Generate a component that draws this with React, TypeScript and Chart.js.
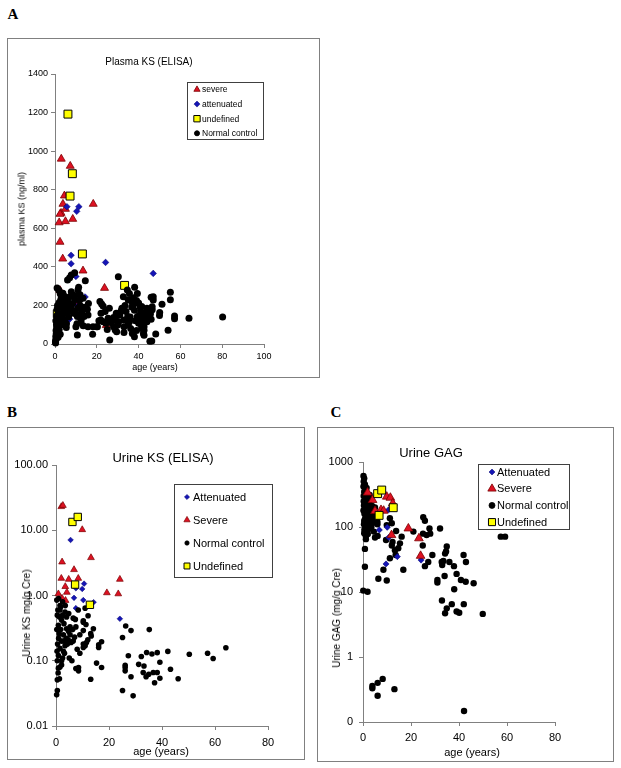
import React, { useEffect, useRef } from "react";
import { Chart, registerables } from "chart.js";
Chart.register(...registerables);

type Pt = [number, number];

// ---------- Panel A: Plasma KS (ELISA) ----------
const plasmaSevere: Pt[] = [
  [3, 960], [7.3, 923], [4.5, 769], [18.3, 726], [3.8, 726], [2.9, 679], [2.4, 674], [5, 700],
  [2, 630], [5, 636], [8.5, 648], [2.4, 529], [3.7, 442], [13.4, 380], [23.7, 290], [2.4, 278],
  [10.2, 216], [24.5, 97],
];
const plasmaAttenuated: Pt[] = [
  [5.7, 712], [11.4, 712], [10.4, 688], [7.7, 460], [7.7, 416], [24.2, 423], [47, 366], [10, 350],
  [14.4, 244], [10.7, 196], [7, 129],
];
const plasmaUndefined: Pt[] = [
  [6.2, 1192], [8.3, 883], [7.2, 767], [13.1, 467], [33.3, 304], [1.1, 157],
];
const plasmaNormal: Pt[] = [
  [0.3, 5], [0.3, 15], [0.5, 25], [0.4, 40], [0.6, 55], [0.5, 70], [0.8, 85], [0.7, 100], [1, 110],
  [0.4, 120], [1.2, 130], [0.8, 145], [1.5, 160], [1, 180], [1.8, 195], [0.6, 30], [1.3, 60], [2, 75],
  [1.6, 95], [2.2, 115], [2.5, 140], [1.2, 200], [2, 215], [2.8, 230], [1, 290], [1.8, 280], [3, 240],
  [2.5, 260], [0.2, 10], [0.9, 45], [1.5, 35],
  [3.8, 263], [4.2, 250], [3.5, 200], [4, 180], [4.5, 160], [3.5, 140], [4, 120], [5, 228], [5.4, 211],
  [6.2, 194], [7, 245], [7.8, 271], [8.6, 254], [6, 332], [7, 344], [7.8, 358], [9.4, 370], [3.8, 159],
  [4.6, 124], [5.4, 86], [6, 225], [6.5, 170], [7.5, 200], [5.5, 105], [6.5, 140], [8, 180], [8.5, 210],
  [9, 160], [9.5, 230], [4.8, 240], [3, 100], [2.5, 50],
  [9.7, 159], [10.7, 142], [11, 185], [10.7, 47], [11.3, 294], [11, 280], [11.8, 228], [13.4, 237],
  [15.5, 180], [12.6, 176], [11.8, 150], [13.9, 142], [15.8, 150], [12, 200], [13, 160], [14.5, 328],
  [10.5, 105], [12.5, 120], [14, 190], [16, 210], [9.5, 250], [10, 90], [13.5, 95], [12, 255],
  [15.8, 90], [18.2, 90], [20.3, 90], [21.9, 124], [23, 116], [25.4, 133], [26.2, 21], [28.5, 133],
  [29.3, 159], [21.5, 220], [22.3, 207], [23, 197], [24, 168], [26, 185], [19.9, 90], [21, 120],
  [24.4, 107], [28, 90], [28.8, 72], [29.5, 64], [30, 98], [30.5, 116], [30.3, 349], [27, 110],
  [22, 160], [25, 75], [18, 50],
  [31, 150], [32, 185], [32.7, 176], [33, 124], [33, 90], [34, 168], [34.8, 142], [35.6, 116],
  [36.2, 81], [37, 55], [38, 38], [39.4, 142], [40, 107], [40.5, 124], [42, 102], [42.6, 90],
  [41.5, 81], [42.3, 55], [29.5, 152], [31, 162], [31.7, 173], [28, 138], [29, 124], [36.7, 219],
  [37.8, 207], [35.6, 262], [34.6, 280], [32.7, 245], [38.1, 294], [39.4, 262], [37.5, 240], [39, 226],
  [40, 212], [44, 185], [44.5, 168], [42.3, 159], [43.2, 150], [44, 115], [43, 128], [42, 115],
  [41.5, 92], [42.6, 71], [42.6, 46], [45.6, 153], [44.6, 150], [45.6, 162], [40.8, 190], [41.5, 195],
  [36.7, 192], [35, 230], [33.5, 200], [38, 175], [36, 140], [35, 100], [33, 60], [39, 70],
  [40.5, 150], [41, 170], [38.5, 120],
  [46, 242], [46.5, 193], [46.5, 177], [46, 128], [47, 245], [47, 228], [48.2, 52], [46.3, 16],
  [50.1, 163], [50, 148], [51.2, 206], [54.1, 71], [55.2, 268], [55.2, 230], [57.2, 145], [57.2, 131],
  [64.1, 133], [80.2, 140], [45.4, 14],
];
const plasmaXTicks = [0, 20, 40, 60, 80, 100];
const plasmaYTicks = [0, 200, 400, 600, 800, 1000, 1200, 1400];

// ---------- Panel B: Urine KS (ELISA) ----------
const urineKsAttenuated: Pt[] = [
  [5.5, 7.1], [10.6, 1.52], [7.5, 1.29], [9.9, 1.26], [6.8, 0.92], [10.3, 0.85], [14.2, 0.79],
  [7.5, 0.64], [24.1, 0.44],
];
const urineKsSevere: Pt[] = [
  [2, 23], [2.6, 24], [9.9, 10.2], [13.2, 3.8], [2.3, 3.26], [6.8, 2.49], [2, 1.83], [4.8, 1.77],
  [8.4, 1.83], [24.1, 1.77], [3.5, 1.37], [4.1, 1.12], [19.2, 1.1], [23.5, 1.06], [0.9, 1.06],
  [2.3, 0.906], [3.6, 0.84],
];
const urineKsUndefined: Pt[] = [
  [6.2, 13.4], [8.2, 16], [7.2, 1.47], [12.8, 0.72],
];
const urineKsNormal: Pt[] = [
  [0.3, 0.85], [1, 0.9], [1.8, 0.67], [1.5, 0.6], [1.3, 0.47], [2.1, 0.42], [0.9, 0.35], [1.8, 0.3],
  [2.8, 0.25], [1, 0.22], [2.1, 0.2], [3.4, 0.17], [1.5, 0.155], [2.8, 0.14], [0.9, 0.12], [2.1, 0.1],
  [1.5, 0.08], [0.9, 0.077], [3, 0.37], [4, 0.31], [3.8, 0.22], [4.6, 0.21], [4, 0.47], [4.8, 0.53],
  [3.4, 0.56], [0.5, 0.1], [2.1, 0.086], [0.5, 0.5], [0.3, 0.3], [0.6, 0.18], [0.4, 0.14], [1.2, 0.26],
  [2.5, 0.5], [3.2, 0.13], [2.5, 0.11], [0.8, 0.065], [0.5, 0.051], [1.3, 0.053], [0.5, 0.035],
  [0.25, 0.03], [1.5, 0.7], [2.5, 0.8], [3.5, 0.7], [0.7, 0.6], [4.3, 0.18], [3, 0.2], [4.8, 0.28],
  [5.3, 0.33], [6.3, 0.3], [5.3, 0.25], [5.7, 0.19], [5, 0.11], [6, 0.1], [7.5, 0.076], [8.5, 0.079],
  [8.5, 0.07], [8.4, 0.6], [7.3, 0.43], [10.3, 0.41], [10.3, 0.39], [10.3, 0.29], [10.3, 0.18],
  [10.3, 0.16], [12, 0.21], [11.5, 0.19], [11, 0.17], [11.3, 0.36], [12.1, 0.49], [11, 0.64],
  [14.1, 0.31], [13.1, 0.26], [13.3, 0.24], [16.1, 0.175], [16.1, 0.16], [17.2, 0.196], [15.3, 0.092],
  [17.2, 0.079], [13.1, 0.052], [6.5, 0.2], [7, 0.23], [8, 0.15], [9, 0.13], [7.5, 0.33], [6.5, 0.45],
  [9, 0.25],
  [25.1, 0.227], [26.3, 0.34], [28.3, 0.29], [27.3, 0.119], [26.1, 0.085], [26.1, 0.079], [26.1, 0.07],
  [28.3, 0.057], [25.1, 0.035], [29.1, 0.029], [31.2, 0.088], [32.2, 0.116], [33.2, 0.083],
  [32.9, 0.066], [34, 0.057], [35, 0.062], [36.7, 0.066], [38.2, 0.066], [39.2, 0.054], [37.2, 0.046],
  [34.2, 0.134], [35.2, 0.3], [36.2, 0.127], [38.2, 0.133], [39.2, 0.095], [42.2, 0.139], [43.2, 0.074],
  [46.1, 0.053], [50.3, 0.126], [57.2, 0.13], [59.3, 0.108], [64.1, 0.158],
];
const urineKsXTicks = [0, 20, 40, 60, 80];
const urineKsYTicks = [0.01, 0.1, 1, 10, 100];

// ---------- Panel C: Urine GAG ----------
const gagAttenuated: Pt[] = [
  [10.6, 183], [6.8, 90], [10.1, 99], [10.7, 69], [14.3, 35], [9.6, 27], [24.2, 31],
];
const gagSevere: Pt[] = [
  [1.9, 338], [4, 260], [9.9, 293], [11.4, 282], [12.4, 231], [7.5, 183], [8.6, 178], [5, 176],
  [18.9, 95], [23.3, 67], [24, 36], [11.9, 75],
];
const gagUndefined: Pt[] = [
  [6.1, 326], [7.8, 370], [12.6, 198], [6.7, 151],
];
const gagNormal: Pt[] = [
  [0.2, 610], [0.5, 560], [0.3, 500], [0.8, 450], [0.2, 420], [1, 380], [0.5, 350], [1.5, 330],
  [0.3, 300], [1.2, 280], [2, 260], [0.7, 240], [1.8, 230], [0.4, 215], [2.5, 200], [1, 190],
  [1.5, 175], [3, 165], [0.6, 160], [2.2, 150], [3.5, 140], [0.9, 135], [1.8, 128], [2.8, 120],
  [4, 115], [0.4, 110], [1.3, 105], [2.4, 100], [3.2, 95], [0.8, 92], [1.8, 88], [4.5, 85], [0.5, 80],
  [2, 78], [1.2, 72], [3, 130], [4, 180], [5, 150], [3.8, 210], [2.8, 310], [1.5, 400], [0.2, 180],
  [0.5, 125], [4.5, 125], [5.5, 130], [6, 110], [3.5, 100], [1.2, 65], [0.8, 46], [0.8, 24.5],
  [0.1, 10.5], [1.9, 10.1], [2.5, 240], [3.3, 270], [5, 200], [0.3, 250], [0.6, 90], [2, 140],
  [4.2, 160], [6, 120],
  [11.2, 136], [9.9, 107], [12, 114], [13.8, 87], [5, 69], [6.1, 73], [9.6, 63], [12.3, 59], [12, 52],
  [13.3, 44], [16.1, 71], [13.6, 37], [11.2, 33], [8.5, 22], [6.4, 16], [9.9, 15], [16.8, 22],
  [15.4, 56], [14.7, 47], [21, 85], [25.1, 141], [25.8, 125], [25, 79], [26.5, 75], [28, 79],
  [27.7, 95], [24.9, 52], [25.8, 25], [27.2, 29], [28.9, 37], [32.1, 95], [34.9, 50], [34.6, 42],
  [34.2, 39], [33.5, 30], [36, 29], [32.8, 29], [33, 26], [31, 15.3], [31, 14], [34, 17.6], [37.9, 25],
  [39, 19], [38, 11], [40.8, 15.3], [42.8, 14.4], [41.9, 37], [42.9, 29], [46.1, 13.6], [57.4, 71],
  [59.2, 71], [32.9, 7.4], [37, 6.5], [42, 6.5], [34.9, 5.6], [34.2, 4.7], [39, 5], [40.1, 4.8],
  [49.9, 4.6], [3.9, 0.358], [3.9, 0.33], [6.1, 0.4], [8.2, 0.46], [6.1, 0.254], [13.1, 0.32],
  [42.1, 0.148],
];
const gagXTicks = [0, 20, 40, 60, 80];
const gagYTicks = [0.1, 1, 10, 100, 1000];

// ---------- styles ----------
const SANS = '"Liberation Sans", Arial, Helvetica, sans-serif';
const SERIF = '"Liberation Serif", "Times New Roman", serif';
const AXIS = "#808080";
const RED = "#dd1122", RED_B = "#7a0000";
const BLUE = "#1515b5", BLUE_B = "#000070";
const YEL = "#ffff00";

type Series = {
  label: string; data: Pt[]; style: string; r: number; bg: string; border: string; bw: number; order: number;
  legendR: number;
};
type LegendSpec = {
  x: number; y: number; w: number; h: number; markerX: number; textX: number;
  firstRow: number; rowGap: number; fontSize: number; order: string[];
};
type PanelProps = {
  box: { x: number; y: number; w: number; h: number };
  plot: { left: number; top: number; right: number; bottom: number };
  series: Series[];
  xMax: number; xTicks: number[];
  yLog: boolean; yMin: number; yMax: number; yTicks: number[]; yFmt: (v: number) => string;
  fontSize: number; xPad: number; yPad: number;
  legend: LegendSpec;
};

function drawMarker(ctx: CanvasRenderingContext2D, style: string, x: number, y: number, r: number) {
  ctx.beginPath();
  if (style === "circle") {
    ctx.arc(x, y, r, 0, Math.PI * 2);
  } else if (style === "triangle") {
    ctx.moveTo(x, y - r);
    ctx.lineTo(x + 0.866 * r, y + 0.5 * r);
    ctx.lineTo(x - 0.866 * r, y + 0.5 * r);
  } else if (style === "rectRot") {
    ctx.moveTo(x - r, y); ctx.lineTo(x, y - r); ctx.lineTo(x + r, y); ctx.lineTo(x, y + r);
  } else {
    const s = Math.SQRT1_2 * r;
    ctx.rect(x - s, y - s, 2 * s, 2 * s);
  }
  ctx.closePath();
  ctx.fill();
  if (ctx.lineWidth > 0) ctx.stroke();
}

function makeLegendPlugin(spec: LegendSpec, series: Series[], ox: number, oy: number) {
  return {
    id: "boxLegend",
    afterDatasetsDraw(chart: any) {
      const ctx: CanvasRenderingContext2D = chart.ctx;
      const x = spec.x - ox, y = spec.y - oy;
      ctx.save();
      ctx.fillStyle = "#fff";
      ctx.fillRect(x, y, spec.w, spec.h);
      ctx.strokeStyle = "#404040";
      ctx.lineWidth = 1;
      ctx.strokeRect(x + 0.5, y + 0.5, spec.w - 1, spec.h - 1);
      ctx.font = `${spec.fontSize}px ${SANS}`;
      ctx.textBaseline = "middle";
      ctx.textAlign = "left";
      spec.order.forEach((lab, i) => {
        const s = series.find((q) => q.label === lab)!;
        const cy = spec.firstRow - oy + i * spec.rowGap;
        ctx.fillStyle = s.bg;
        ctx.strokeStyle = s.border;
        ctx.lineWidth = s.bw;
        drawMarker(ctx, s.style, spec.markerX - ox, cy, s.legendR);
        ctx.fillStyle = "#000";
        ctx.fillText(lab, spec.textX - ox, cy + 0.5);
      });
      ctx.restore();
    },
  };
}

function ScatterPanel(p: PanelProps) {
  const ref = useRef<HTMLCanvasElement>(null);
  useEffect(() => {
    const { box, plot } = p;
    const padTop = plot.top - box.y;
    const padRight = box.x + box.w - plot.right;
    const yW = plot.left - box.x;
    const xH = box.y + box.h - plot.bottom;
    const tickFont = { family: SANS, size: p.fontSize };
    const chart = new Chart(ref.current!, {
      type: "scatter",
      data: {
        datasets: p.series.map((s) => ({
          label: s.label,
          data: s.data.map(([x, y]) => ({ x, y })),
          pointStyle: s.style as any,
          pointRadius: s.r,
          pointHoverRadius: s.r,
          backgroundColor: s.bg,
          borderColor: s.border,
          borderWidth: s.bw,
          order: s.order,
          clip: false as any,
          showLine: false,
        })),
      },
      options: {
        animation: false,
        responsive: false,
        maintainAspectRatio: false,
        events: [],
        layout: { padding: { top: padTop, right: padRight, left: 0, bottom: 0 }, autoPadding: false } as any,
        plugins: { legend: { display: false }, tooltip: { enabled: false }, title: { display: false } },
        scales: {
          x: {
            type: "linear",
            min: 0,
            max: p.xMax,
            afterBuildTicks: (s: any) => { s.ticks = p.xTicks.map((v) => ({ value: v })); },
            afterFit: (s: any) => { s.height = xH; },
            ticks: { font: tickFont, color: "#000", padding: p.xPad, maxRotation: 0, autoSkip: false, callback: (v: any) => String(v) },
            grid: { drawOnChartArea: false, drawTicks: true, tickLength: 4, color: AXIS },
            border: { display: true, color: AXIS },
          },
          y: {
            type: p.yLog ? "logarithmic" : "linear",
            min: p.yMin,
            max: p.yMax,
            afterBuildTicks: (s: any) => { s.ticks = p.yTicks.map((v) => ({ value: v })); },
            afterFit: (s: any) => { s.width = yW; },
            ticks: { font: tickFont, color: "#000", padding: p.yPad, autoSkip: false, callback: (v: any) => p.yFmt(Number(v)) },
            grid: { drawOnChartArea: false, drawTicks: true, tickLength: 4, color: AXIS },
            border: { display: true, color: AXIS },
          },
        } as any,
      },
      plugins: [makeLegendPlugin(p.legend, p.series, box.x, box.y)],
    });
    return () => chart.destroy();
  }, []);
  const { box } = p;
  return (
    <>
      <div style={{ position: "absolute", left: box.x, top: box.y, width: box.w, height: box.h, border: `1px solid ${AXIS}`, boxSizing: "border-box" }} />
      <canvas
        ref={ref}
        width={box.w}
        height={box.h}
        style={{ position: "absolute", left: box.x, top: box.y, width: box.w, height: box.h }}
      />
    </>
  );
}

function Txt(props: { x: number; y: number; size: number; text: string; rotate?: boolean; bold?: boolean; serif?: boolean }) {
  return (
    <div
      style={{
        position: "absolute",
        left: props.x,
        top: props.y,
        transform: `translate(-50%, -50%)${props.rotate ? " rotate(-90deg)" : ""}`,
        fontFamily: props.serif ? SERIF : SANS,
        fontSize: props.size,
        fontWeight: props.bold ? "bold" : "normal",
        whiteSpace: "nowrap",
        lineHeight: 1,
        color: "#000",
      }}
    >
      {props.text}
    </div>
  );
}

const seriesA: Series[] = [
  { label: "severe", data: plasmaSevere, style: "triangle", r: 4.6, bg: RED, border: RED_B, bw: 0.8, order: 4, legendR: 3.6 },
  { label: "attenuated", data: plasmaAttenuated, style: "rectRot", r: 3.3, bg: BLUE, border: BLUE_B, bw: 0.5, order: 3, legendR: 3 },
  { label: "undefined", data: plasmaUndefined, style: "rect", r: 5.6, bg: YEL, border: "#000", bw: 1, order: 2, legendR: 4.5 },
  { label: "Normal control", data: plasmaNormal, style: "circle", r: 3.5, bg: "#000", border: "#000", bw: 0, order: 1, legendR: 2.5 },
];
const seriesB: Series[] = [
  { label: "Attenuated", data: urineKsAttenuated, style: "rectRot", r: 2.8, bg: BLUE, border: BLUE_B, bw: 0.5, order: 4, legendR: 2.6 },
  { label: "Severe", data: urineKsSevere, style: "triangle", r: 3.9, bg: RED, border: RED_B, bw: 0.7, order: 3, legendR: 3.6 },
  { label: "Normal control", data: urineKsNormal, style: "circle", r: 2.8, bg: "#000", border: "#000", bw: 0, order: 2, legendR: 2.2 },
  { label: "Undefined", data: urineKsUndefined, style: "rect", r: 5.2, bg: YEL, border: "#000", bw: 1, order: 1, legendR: 4.2 },
];
const seriesC: Series[] = [
  { label: "Attenuated", data: gagAttenuated, style: "rectRot", r: 3.1, bg: BLUE, border: BLUE_B, bw: 0.5, order: 3, legendR: 3 },
  { label: "Severe", data: gagSevere, style: "triangle", r: 5, bg: RED, border: RED_B, bw: 0.8, order: 2, legendR: 4.8 },
  { label: "Normal control", data: gagNormal, style: "circle", r: 3.2, bg: "#000", border: "#000", bw: 0, order: 4, legendR: 3 },
  { label: "Undefined", data: gagUndefined, style: "rect", r: 5.6, bg: YEL, border: "#000", bw: 1, order: 1, legendR: 5 },
];

export default function App() {
  return (
    <div style={{ position: "absolute", left: 0, top: 0, width: 621, height: 768, background: "#fff" }}>
      <Txt x={13} y={14} size={15} text="A" bold serif />
      <Txt x={12} y={412} size={15} text="B" bold serif />
      <Txt x={336} y={412} size={15} text="C" bold serif />

      <ScatterPanel
        box={{ x: 7, y: 38, w: 313, h: 340 }}
        plot={{ left: 55, top: 74, right: 264, bottom: 344 }}
        series={seriesA}
        xMax={100}
        xTicks={plasmaXTicks}
        yLog={false}
        yMin={0}
        yMax={1400}
        yTicks={plasmaYTicks}
        yFmt={(v) => String(v)}
        fontSize={9}
        xPad={3}
        yPad={3}
        legend={{ x: 187, y: 82, w: 77, h: 58, markerX: 197, textX: 202, firstRow: 89.5, rowGap: 14.6, fontSize: 8.5, order: ["severe", "attenuated", "undefined", "Normal control"] }}
      />
      <Txt x={149} y={62} size={10} text="Plasma KS (ELISA)" />
      <Txt x={155} y={367} size={9} text="age (years)" />
      <Txt x={22} y={209} size={9} text="plasma KS (ng/ml)" rotate />

      <ScatterPanel
        box={{ x: 7, y: 427, w: 298, h: 333 }}
        plot={{ left: 56, top: 465, right: 268, bottom: 726 }}
        series={seriesB}
        xMax={80}
        xTicks={urineKsXTicks}
        yLog={true}
        yMin={0.01}
        yMax={100}
        yTicks={urineKsYTicks}
        yFmt={(v) => v.toFixed(2)}
        fontSize={11}
        xPad={6}
        yPad={4}
        legend={{ x: 174, y: 484, w: 99, h: 94, markerX: 187, textX: 193, firstRow: 497, rowGap: 23, fontSize: 11, order: ["Attenuated", "Severe", "Normal control", "Undefined"] }}
      />
      <Txt x={163} y={457} size={13} text="Urine KS (ELISA)" />
      <Txt x={161} y={751} size={11} text="age (years)" />
      <Txt x={27} y={613} size={10} text="Urine KS mg/g Cre)" rotate />

      <ScatterPanel
        box={{ x: 317, y: 427, w: 297, h: 335 }}
        plot={{ left: 363, top: 462, right: 555, bottom: 722 }}
        series={seriesC}
        xMax={80}
        xTicks={gagXTicks}
        yLog={true}
        yMin={0.1}
        yMax={1000}
        yTicks={gagYTicks}
        yFmt={(v) => v.toFixed(0)}
        fontSize={11}
        xPad={5}
        yPad={6}
        legend={{ x: 478, y: 464, w: 92, h: 66, markerX: 492, textX: 497, firstRow: 472, rowGap: 16.7, fontSize: 11, order: ["Attenuated", "Severe", "Normal control", "Undefined"] }}
      />
      <Txt x={431} y={452} size={13} text="Urine GAG" />
      <Txt x={472} y={752} size={11} text="age (years)" />
      <Txt x={337} y={618} size={10} text="Urine GAG (mg/g Cre)" rotate />
    </div>
  );
}
